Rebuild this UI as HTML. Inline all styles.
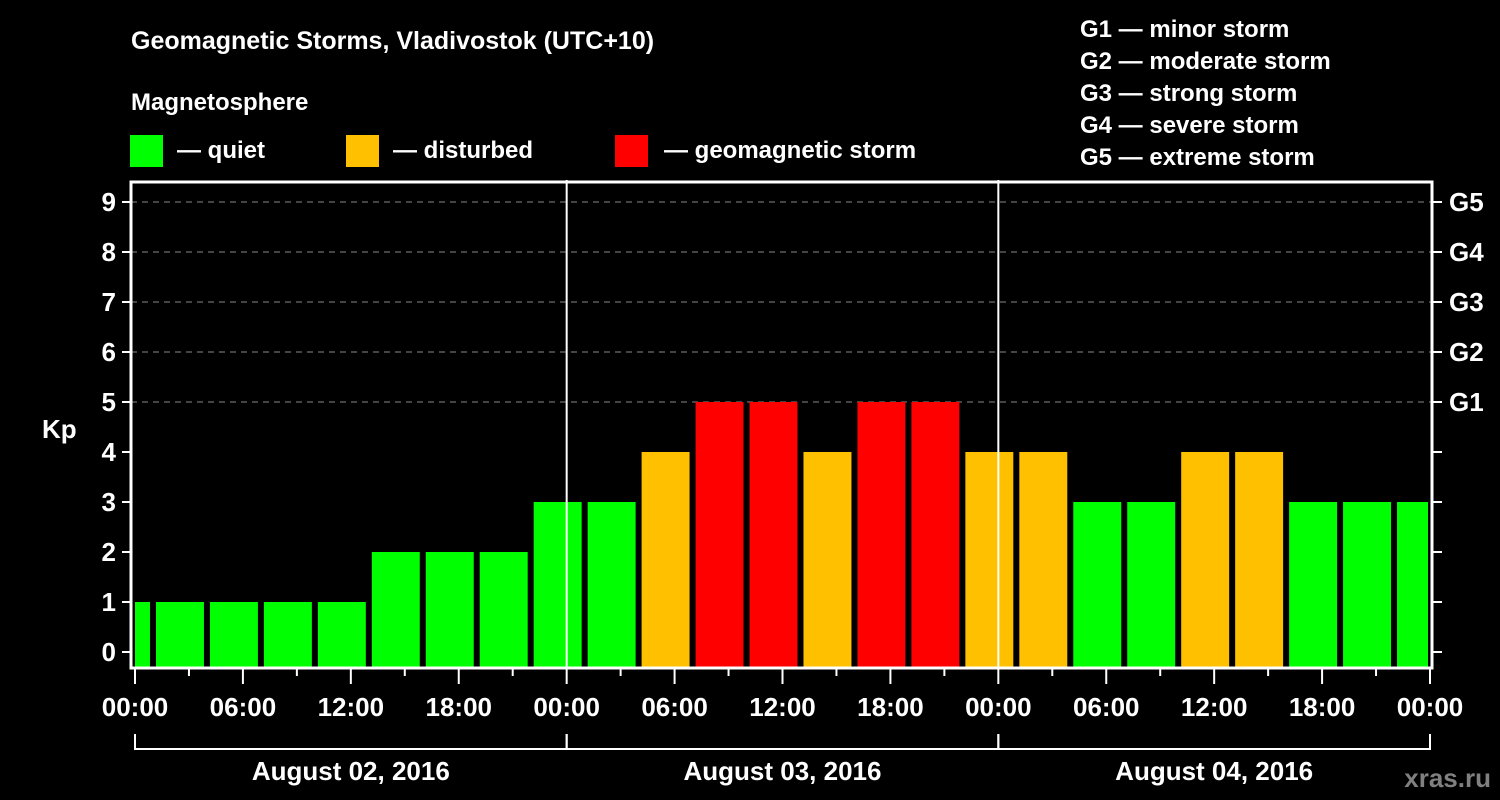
<!DOCTYPE html>
<html><head><meta charset="utf-8"><style>
html,body{margin:0;padding:0;background:#000;}
svg{display:block;font-family:"Liberation Sans",Arial,sans-serif;font-weight:bold;}
</style></head><body>
<svg id="chart" width="1500" height="800" viewBox="0 0 1500 800">
<rect x="0" y="0" width="1500" height="800" fill="#000"/>
<text x="131" y="49" fill="#fff" font-size="25">Geomagnetic Storms, Vladivostok (UTC+10)</text>
<text x="131" y="110" fill="#fff" font-size="24">Magnetosphere</text>
<g><rect x="130" y="135" width="33" height="32" fill="#00ff00"/><text x="177" y="158" fill="#fff" font-size="24">— quiet</text></g>
<g><rect x="346" y="135" width="33" height="32" fill="#ffc000"/><text x="393" y="158" fill="#fff" font-size="24">— disturbed</text></g>
<g><rect x="615" y="135" width="33" height="32" fill="#ff0000"/><text x="664" y="158" fill="#fff" font-size="24">— geomagnetic storm</text></g>
<g fill="#fff" font-size="24">
<text x="1080" y="37">G1 — minor storm</text>
<text x="1080" y="69">G2 — moderate storm</text>
<text x="1080" y="101">G3 — strong storm</text>
<text x="1080" y="133">G4 — severe storm</text>
<text x="1080" y="165">G5 — extreme storm</text>
</g>
<text x="42" y="438" fill="#fff" font-size="26">Kp</text>
<text x="1491" y="787" fill="#808080" font-size="26" text-anchor="end">xras.ru</text>
<g id="grid"></g><g id="bars"></g><g id="axes"></g>
</svg>
<script>
const kpValues = [1,1,1,1,1,2,2,2,3,3,4,5,5,4,5,5,4,4,3,3,4,4,3,3,3];
const barStartHours = [-2,1,4,7,10,13,16,19,22,25,28,31,34,37,40,43,46,49,52,55,58,61,64,67,70];
const yTicks = [0,1,2,3,4,5,6,7,8,9];
const gLabels = ["G1","G2","G3","G4","G5"];
const gLevels = [5,6,7,8,9];
const xTickLabels = ["00:00","06:00","12:00","18:00","00:00","06:00","12:00","18:00","00:00","06:00","12:00","18:00","00:00"];
const dayLabels = ["August 02, 2016","August 03, 2016","August 04, 2016"];
const NS="http://www.w3.org/2000/svg";
const X0=135,PXH=1295/72,Y0=652,PXK=50,L=131,R=1432,T=182,B=668;
const xs=h=>X0+h*PXH, ys=k=>Y0-k*PXK;
function mk(tag,attrs,parent,txt){const e=document.createElementNS(NS,tag);for(const k in attrs)e.setAttribute(k,attrs[k]);if(txt!==undefined)e.textContent=txt;document.getElementById(parent).appendChild(e);return e;}
function color(k){return k>=5?"#ff0000":(k>=4?"#ffc000":"#00ff00");}
yTicks.forEach(k=>{
  if(k>=5){const g=mk("line",{x1:L,x2:R,y1:ys(k),y2:ys(k),stroke:"#888","stroke-width":1,"stroke-dasharray":"6,5"},"grid");
  
  }
});
kpValues.forEach((k,i)=>{
  let x1=Math.max(xs(barStartHours[i])+3,X0), x2=Math.min(xs(barStartHours[i]+3)-3,R-4);
  const b=mk("rect",{x:x1,y:ys(k),width:x2-x1,height:B-1-ys(k),fill:color(k)},"bars");
  
  
});
const ax=mk("path",{d:`M${L} ${T}H${R}V${B}H${L}Z`,fill:"none",stroke:"#fff","stroke-width":3},"axes");


[24,48].forEach(h=>{const d=mk("line",{x1:xs(h),x2:xs(h),y1:T-2,y2:B,stroke:"#fff","stroke-width":2},"axes");

});
yTicks.forEach(k=>{
  const t=mk("line",{x1:122,x2:L,y1:ys(k),y2:ys(k),stroke:"#fff","stroke-width":2},"axes");
  
  
  const r=mk("line",{x1:R,x2:1442,y1:ys(k),y2:ys(k),stroke:"#fff","stroke-width":2},"axes");
  
  
  const l=mk("text",{x:116,y:ys(k)+9,fill:"#fff","font-size":26,"text-anchor":"end"},"axes",String(k));
  
  
});
gLabels.forEach((g,i)=>{const t=mk("text",{x:1449,y:ys(gLevels[i])+9,fill:"#fff","font-size":26},"axes",g);

});
for(let h=0;h<=72;h+=3){const major=h%6===0;
  const t=mk("line",{x1:xs(h),x2:xs(h),y1:B,y2:B+(major?16:8),stroke:"#fff","stroke-width":2},"axes");
  
  }
xTickLabels.forEach((s,i)=>{const t=mk("text",{x:xs(i*6),y:716,fill:"#fff","font-size":26,"text-anchor":"middle"},"axes",s);

});
dayLabels.forEach((s,i)=>{
  const a=xs(i*24),b=xs(i*24+24);
  const p=mk("path",{d:`M${a} 734V749H${b}V734`,fill:"none",stroke:"#fff","stroke-width":2},"axes");
  
  
  const t=mk("text",{x:(a+b)/2,y:780,fill:"#fff","font-size":26,"text-anchor":"middle"},"axes",s);
  
  
});
</script>
</body></html>
